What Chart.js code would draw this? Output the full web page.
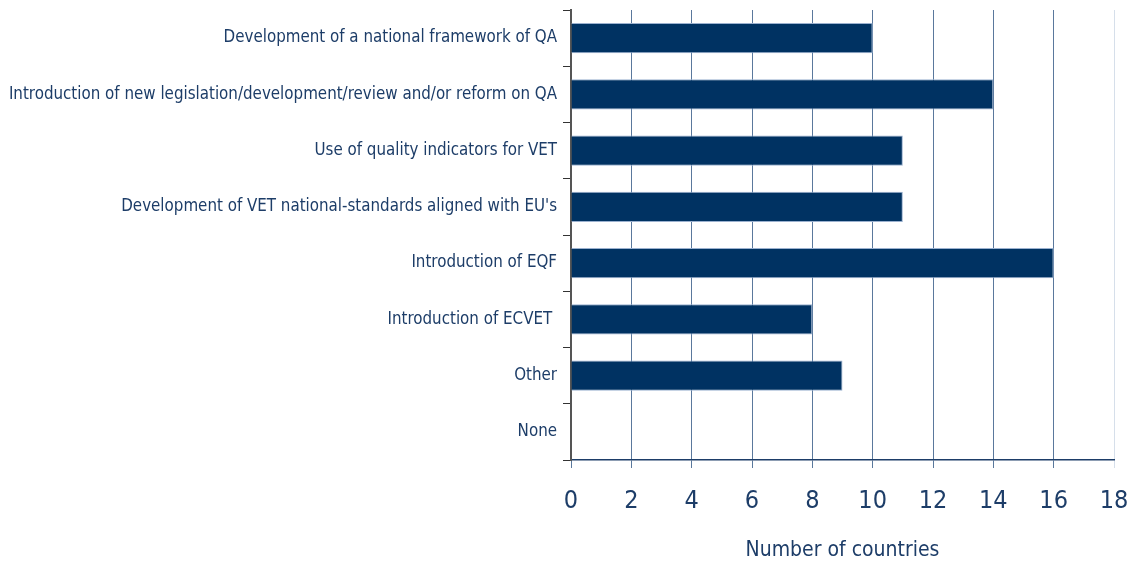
<!DOCTYPE html>
<html><head><meta charset="utf-8">
<script src="https://cdn.jsdelivr.net/npm/chart.js@4"></script>
<style>html,body{margin:0;padding:0;background:#fff}#wrap{width:1130px;height:561px}</style>
</head><body><div id="wrap"><canvas id="c" width="1130" height="561"></canvas></div>
<script>
const categories = [
  "Development of a national framework of QA",
  "Introduction of new legislation/development/review and/or reform on QA",
  "Use of quality indicators for VET",
  "Development of VET national-standards aligned with EU's",
  "Introduction of EQF",
  "Introduction of ECVET ",
  "Other",
  "None"
];
const countries = [10, 14, 11, 11, 16, 8, 9, 0];
const xTicks = [0, 2, 4, 6, 8, 10, 12, 14, 16, 18];
const axisTitle = "Number of countries";

const FONT = "'DejaVu Sans Condensed', 'Liberation Sans Narrow', sans-serif";
const TXT = '#1d3d68';

new Chart(document.getElementById('c'), {
  type: 'bar',
  data: {
    labels: categories,
    datasets: [{
      data: countries,
      backgroundColor: '#003262',
      borderColor: '#9bb1cf',
      borderWidth: 1,
      categoryPercentage: 0.54,
      barPercentage: 1
    }]
  },
  options: {
    indexAxis: 'y',
    responsive: false,
    animation: false,
    layout: { padding: { top: 10, right: 16, left: 0, bottom: 0 } },
    plugins: { legend: { display: false }, tooltip: { enabled: false } },
    scales: {
      x: {
        min: 0, max: 18,
        afterBuildTicks: s => { s.ticks = xTicks.map(v => ({ value: v })); },
        afterFit: s => { s.height = 101; s.paddingLeft = 0; s.paddingRight = 0; },
        border: { display: true, color: '#1d3d68', width: 1.5 },
        grid: {
          drawOnChartArea: true, drawTicks: true, tickLength: 8,
          color: c => (c.tick && c.tick.value === 18) ? '#d6dfea' : '#5a789c',
          lineWidth: 1
        },
        ticks: { color: TXT, font: { family: FONT, size: 25 }, padding: 18 },
        title: { display: true, text: axisTitle, color: TXT, font: { family: FONT, size: 21 }, padding: { top: 16, bottom: -2 } }
      },
      y: {
        afterFit: s => { s.width = 571; s.paddingTop = 0; s.paddingBottom = 0; },
        offset: true,
        border: { display: true, color: '#555', width: 2 },
        grid: { offset: true, drawOnChartArea: false, drawTicks: true, tickLength: 8, color: '#333', lineWidth: 1 },
        ticks: { color: TXT, font: { family: FONT, size: 16.8 }, padding: 6, autoSkip: false }
      }
    }
  }
});
</script></body></html>
